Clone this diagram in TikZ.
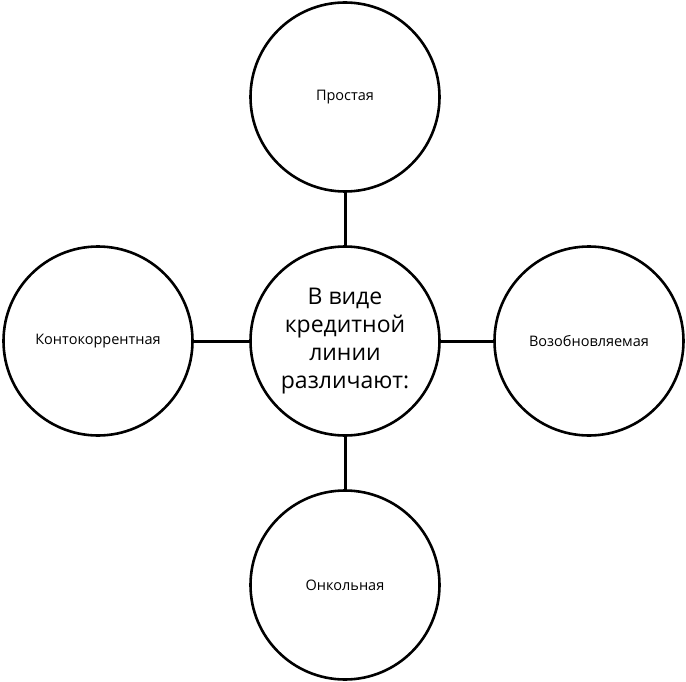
\documentclass[tikz,border=0pt]{standalone}
\usepackage{fontspec}
\setmainfont{Open Sans}
\usepackage{tikz}
\usetikzlibrary{positioning}
\tikzset{
  kcirc/.style={circle, draw=black, fill=white, line width=2.6pt,
                minimum size=189pt, inner sep=0pt, align=center},
  kmain/.style={kcirc, font=\fontsize{23}{28}\selectfont},
  kside/.style={kcirc, font=\fontsize{14.5}{17}\selectfont},
  klink/.style={black, line width=3pt},
}

\begin{document}
\begin{tikzpicture}[x=1pt,y=-1pt]

  \useasboundingbox (0,0) rectangle (686,682);

  % centre
  \node[kmain] (mid) at (345,341) {В виде\\кредитной\\линии\\различают:};

  % виды
  \node[kside] (top)   at (345,97)  {Простая};
  \node[kside] (left)  at (98,341)  {Контокоррентная};
  \node[kside] (right) at (589,341) {Возобновляемая};
  \node[kside] (bot)   at (345,585) {Онкольная};

  % связи
  \draw[klink] (top)   -- (mid);
  \draw[klink] (left)  -- (mid);
  \draw[klink] (right) -- (mid);
  \draw[klink] (bot)   -- (mid);

\end{tikzpicture}
\end{document}
